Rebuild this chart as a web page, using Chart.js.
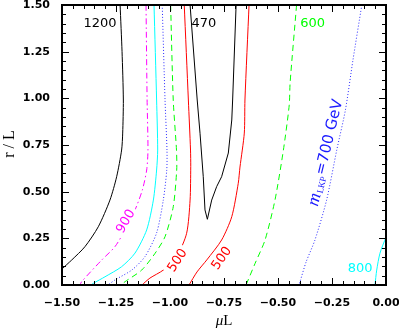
<!DOCTYPE html>
<html>
<head>
<meta charset="utf-8">
<script src="https://cdn.jsdelivr.net/npm/chart.js@4"></script>
<style>
  body { margin: 0; background: #fff; }
  #c { display: block; }
</style>
</head>
<body>
<canvas id="c" width="399" height="331"></canvas>
<script>
/* ---------- contour lines (muL, r/L) ---------- */
const c1200Mu = [-1.231, -1.222, -1.216, -1.219, -1.224, -1.247, -1.278, -1.332, -1.394, -1.455, -1.5];
const c1200R  = [1.5, 1.25, 0.991, 0.814, 0.723, 0.580, 0.455, 0.312, 0.205, 0.134, 0.086];

const c900Mu = [-1.111, -1.106, -1.102, -1.108, -1.128, -1.162, -1.208, -1.255, -1.316, -1.409, -1.417];
const c900R  = [1.5, 0.991, 0.723, 0.616, 0.509, 0.402, 0.295, 0.205, 0.134, 0.018, 0];

const c800aMu = [-1.074, -1.062, -1.057, -1.062, -1.077, -1.108, -1.162, -1.224, -1.301, -1.355, -1.366];
const c800aR  = [1.5, 0.991, 0.723, 0.616, 0.455, 0.295, 0.171, 0.098, 0.044, 0.009, 0];

const c700aMu = [-1.036, -1.023, -1.014, -1.015, -1.031, -1.062, -1.116, -1.177, -1.255, -1.287];
const c700aR  = [1.5, 0.991, 0.723, 0.616, 0.455, 0.279, 0.152, 0.080, 0.027, 0];

const c600aMu = [-0.997, -0.985, -0.970, -0.969, -0.985, -1.023, -1.069, -1.131, -1.208, -1.227];
const c600aR  = [1.5, 0.991, 0.723, 0.616, 0.419, 0.259, 0.170, 0.080, 0.018, 0];

const c500aMu = [-0.934, -0.915, -0.905, -0.904, -0.907, -0.923, -0.969, -1.031, -1.093, -1.130];
const c500aR  = [1.5, 0.991, 0.723, 0.634, 0.455, 0.277, 0.152, 0.080, 0.037, 0];

const c470Mu = [-0.907, -0.874, -0.861, -0.846, -0.838, -0.827, -0.807, -0.784, -0.761, -0.730, -0.714, -0.710, -0.694];
const c470R  = [1.5, 0.991, 0.813, 0.580, 0.402, 0.352, 0.455, 0.527, 0.580, 0.707, 0.884, 0.991, 1.5];

const c500bMu = [-0.634, -0.653, -0.656, -0.676, -0.684, -0.714, -0.761, -0.830, -0.875, -0.912];
const c500bR  = [1.5, 0.991, 0.814, 0.632, 0.545, 0.366, 0.241, 0.134, 0.070, 0];

const c600bMu = [-0.414, -0.444, -0.448, -0.475, -0.514, -0.560, -0.606, -0.648];
const c600bR  = [1.5, 1.082, 0.964, 0.723, 0.455, 0.241, 0.116, 0];

const c700bMu = [-0.112, -0.153, -0.188, -0.228, -0.275, -0.329, -0.370, -0.398, -0.403];
const c700bR  = [1.5, 1.205, 0.937, 0.723, 0.455, 0.241, 0.123, 0.018, 0];

const c800bMu = [0, -0.028, -0.043, -0.051];
const c800bR  = [0.257, 0.170, 0.080, 0];

/* ---------- contour labels ---------- */
const labelText = ["1200", "470", "600", "900", "500", "500", "800", "700"];
const labelMu   = [-1.324, -0.843, -0.340, -1.208, -0.968, -0.764, -0.120, -0.278];
const labelR    = [1.403, 1.403, 1.403, 0.343, 0.134, 0.145, 0.091, 0.710];

const xTicks = [-1.5, -1.25, -1.0, -0.75, -0.5, -0.25, 0];
const yTicks = [0, 0.25, 0.5, 0.75, 1.0, 1.25, 1.5];

const labelStyle = [
  { color: "#000", angle: 0, bg: false },
  { color: "#000", angle: 0, bg: false },
  { color: "#00ff00", angle: 0, bg: false },
  { color: "#ff00ff", angle: -60, bg: true },
  { color: "#ff0000", angle: -57, bg: true },
  { color: "#ff0000", angle: -55, bg: true },
  { color: "#00ffff", angle: 0, bg: false },
  { color: "#1a1aff", angle: -76.5, bg: false, mass: true },
];

const pts = (mu, r) => mu.map((m, i) => ({ x: m, y: r[i] }));

function line(mu, r, color, dash, tension) {
  return {
    data: pts(mu, r),
    showLine: true,
    borderColor: color,
    borderWidth: 1,
    borderDash: dash || [],
    pointRadius: 0,
    tension: tension === undefined ? 0.25 : tension,
    fill: false,
  };
}

// no extra room for overhanging tick labels, the frame sits where the padding says
function noPad(s) {
  s.paddingTop = 0; s.paddingBottom = 0; s.paddingLeft = 0; s.paddingRight = 0;
}

/* ---------- frame, inward ticks, axis titles ---------- */
const framePlugin = {
  id: "frame",
  afterDraw(chart) {
    const ctx = chart.ctx;
    const a = chart.chartArea;
    const xs = chart.scales.x, ys = chart.scales.y;
    ctx.save();
    ctx.strokeStyle = "#000";
    ctx.lineWidth = 1;
    for (let i = 0; i <= 30; i++) {
      const v = -1.5 + i * 0.05;
      const px = Math.round(xs.getPixelForValue(v)) + 0.5;
      const len = i % 5 === 0 ? 7 : 4;
      ctx.beginPath();
      ctx.moveTo(px, a.bottom); ctx.lineTo(px, a.bottom - len);
      ctx.moveTo(px, a.top); ctx.lineTo(px, a.top + len);
      ctx.stroke();
    }
    for (let i = 0; i <= 30; i++) {
      const v = i * 0.05;
      const py = Math.round(ys.getPixelForValue(v)) + 0.5;
      const len = i % 5 === 0 ? 7 : 4;
      ctx.beginPath();
      ctx.moveTo(a.left, py); ctx.lineTo(a.left + len, py);
      ctx.moveTo(a.right, py); ctx.lineTo(a.right - len, py);
      ctx.stroke();
    }
    ctx.lineWidth = 2;
    ctx.strokeRect(a.left, a.top, a.right - a.left, a.bottom - a.top);

    // axis titles
    ctx.fillStyle = "#000";
    ctx.textBaseline = "middle";
    ctx.font = "italic 15px 'Liberation Serif'";
    const w1 = ctx.measureText("\u03bc").width;
    ctx.font = "15px 'Liberation Serif'";
    const w2 = ctx.measureText("L").width;
    let x0 = (a.left + a.right) / 2 - (w1 + w2) / 2;
    ctx.textAlign = "left";
    ctx.font = "italic 15px 'Liberation Serif'";
    ctx.fillText("\u03bc", x0, 321);
    ctx.font = "15px 'Liberation Serif'";
    ctx.fillText("L", x0 + w1, 321);

    ctx.translate(10, 144);
    ctx.rotate(-Math.PI / 2);
    ctx.textAlign = "center";
    ctx.font = "16px 'Liberation Serif'";
    ctx.fillText("r / L", 0, 0);
    ctx.restore();
  },
};

/* ---------- contour labels ---------- */
const labelPlugin = {
  id: "contourLabels",
  afterDatasetsDraw(chart) {
    const ctx = chart.ctx;
    const xs = chart.scales.x, ys = chart.scales.y;
    labelText.forEach((t, i) => {
      const st = labelStyle[i];
      const px = xs.getPixelForValue(labelMu[i]);
      const py = ys.getPixelForValue(labelR[i]);
      ctx.save();
      ctx.translate(px, py);
      ctx.rotate(st.angle * Math.PI / 180);
      ctx.textBaseline = "middle";
      ctx.fillStyle = st.color;
      if (st.mass) {
        const parts = [
          { s: "m", f: "italic 18px 'Liberation Serif'", dy: 0 },
          { s: "LKP", f: "9px 'Liberation Serif'", dy: 4 },
          { s: "=" + t + " GeV", f: "15px 'DejaVu Sans'", dy: 0 },
        ];
        let total = 0;
        parts.forEach(p => { ctx.font = p.f; p.w = ctx.measureText(p.s).width; total += p.w + 1; });
        let x = -total / 2;
        ctx.textAlign = "left";
        parts.forEach(p => { ctx.font = p.f; ctx.fillText(p.s, x, p.dy); x += p.w + 1; });
      } else {
        ctx.font = "13px 'DejaVu Sans'";
        const w = ctx.measureText(t).width;
        if (st.bg) {
          ctx.fillStyle = "#fff";
          ctx.fillRect(-w / 2 - 3, -7, w + 6, 14);
          ctx.fillStyle = st.color;
        }
        ctx.textAlign = "center";
        ctx.fillText(t, 0, 1);
      }
      ctx.restore();
    });
  },
};

new Chart(document.getElementById("c"), {
  type: "scatter",
  data: {
    datasets: [
      line(c1200Mu, c1200R, "#000"),
      line(c900Mu, c900R, "#ff00ff", [6, 3, 1.5, 3]),
      line(c800aMu, c800aR, "#00ffff"),
      line(c700aMu, c700aR, "#2a2aff", [1, 2]),
      line(c600aMu, c600aR, "#00ff00", [6, 4]),
      line(c500aMu, c500aR, "#ff0000"),
      line(c470Mu, c470R, "#000", [], 0),
      line(c500bMu, c500bR, "#ff0000"),
      line(c600bMu, c600bR, "#00ff00", [6, 4]),
      line(c700bMu, c700bR, "#2a2aff", [1, 2]),
      line(c800bMu, c800bR, "#00ffff"),
    ],
  },
  options: {
    responsive: false,
    devicePixelRatio: 1,
    animation: false,
    layout: { padding: { top: 5, right: 13, left: 0, bottom: 0 } },
    plugins: { legend: { display: false }, tooltip: { enabled: false } },
    scales: {
      x: {
        type: "linear",
        min: -1.5,
        max: 0,
        afterFit(s) { s.height = 46; noPad(s); },
        afterBuildTicks(s) { s.ticks = xTicks.map(v => ({ value: v })); },
        grid: { display: false },
        border: { display: false },
        ticks: {
          autoSkip: false,
          maxRotation: 0,
          padding: 4,
          color: "#000",
          font: { family: "'DejaVu Sans'", size: 11, weight: "bold" },
          callback: v => v.toFixed(2).replace("-", "\u2212"),
        },
      },
      y: {
        type: "linear",
        min: 0,
        max: 1.5,
        afterFit(s) { s.width = 62; noPad(s); },
        afterBuildTicks(s) { s.ticks = yTicks.map(v => ({ value: v })); },
        grid: { display: false },
        border: { display: false },
        ticks: {
          autoSkip: false,
          padding: 4,
          color: "#000",
          font: { family: "'DejaVu Sans'", size: 11, weight: "bold" },
          callback: v => v.toFixed(2),
        },
      },
    },
  },
  plugins: [labelPlugin, framePlugin],
});
</script>
</body>
</html>
